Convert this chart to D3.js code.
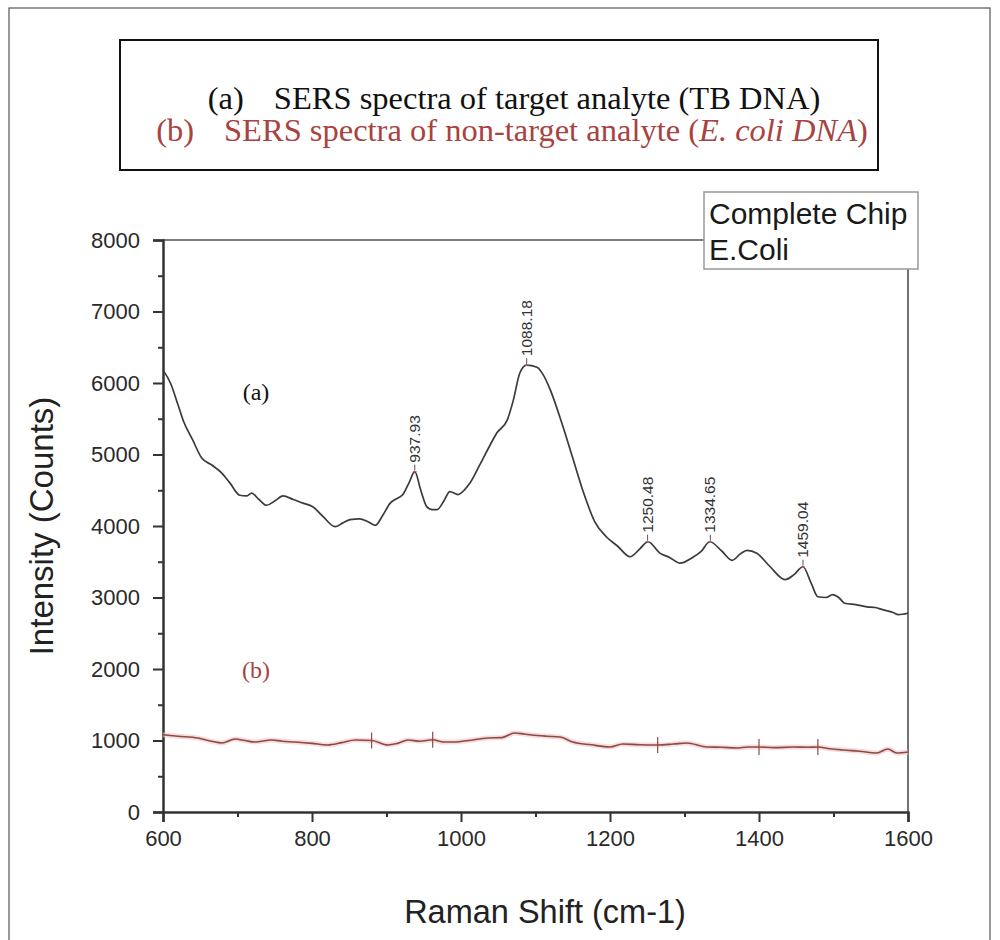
<!DOCTYPE html>
<html>
<head>
<meta charset="utf-8">
<script src="https://cdn.jsdelivr.net/npm/d3@7"></script>
<style>
  body { margin: 0; background: #fff; }
  svg { display: block; }
</style>
</head>
<body>
<svg id="chart" width="1000" height="940"></svg>
<script>
// spectrum (a) : TB DNA
const shiftA = [600, 610, 620, 627, 640, 652, 666, 679, 690, 703, 712, 719, 728, 739, 750, 761, 775, 788, 801, 815,
  831, 841, 851, 864, 875, 885, 895, 905, 915, 922, 930, 938, 946, 954, 961, 968, 977, 985, 996, 1005,
  1012, 1025, 1040, 1048, 1062, 1070, 1079, 1088, 1102, 1110, 1120, 1135, 1150, 1165, 1180, 1195, 1210, 1227, 1240, 1251,
  1267, 1280, 1294, 1311, 1322, 1334, 1350, 1364, 1375, 1384, 1397, 1415, 1435, 1447, 1459, 1470, 1479, 1490, 1499, 1507,
  1515, 1530, 1545, 1556, 1566, 1580, 1587, 1600];
const countsA = [6180, 6000, 5700, 5480, 5200, 4950, 4850, 4740, 4600, 4430, 4420, 4460, 4380, 4290, 4350, 4420, 4370, 4320, 4270, 4130,
  3990, 4040, 4090, 4100, 4060, 4010, 4150, 4320, 4390, 4440, 4600, 4760, 4500, 4270, 4230, 4230, 4350, 4480, 4440, 4510,
  4600, 4850, 5150, 5300, 5480, 5750, 6140, 6250, 6220, 6120, 5900, 5450, 4950, 4450, 4050, 3850, 3720, 3570, 3680, 3780,
  3620, 3560, 3480, 3560, 3640, 3780, 3650, 3520, 3610, 3660, 3620, 3430, 3250, 3320, 3430, 3200, 3010, 3000, 3040, 3000,
  2920, 2900, 2870, 2860, 2830, 2790, 2760, 2780];

// spectrum (b) : E. coli DNA
const shiftB = [600, 620, 647, 665, 679, 697, 710, 723, 746, 760, 777, 800, 821, 840, 858, 880, 902, 915, 929, 945,
  962, 975, 992, 1010, 1036, 1055, 1072, 1085, 1095, 1115, 1133, 1150, 1175, 1200, 1217, 1240, 1264, 1285, 1303, 1330,
  1350, 1370, 1385, 1400, 1420, 1446, 1465, 1479, 1495, 1513, 1535, 1558, 1573, 1585, 1600];
const countsB = [1080, 1060, 1035, 990, 965, 1020, 1000, 979, 1007, 990, 979, 960, 937, 970, 1007, 1000, 937, 960, 1007, 990,
  1010, 980, 979, 1000, 1035, 1040, 1105, 1090, 1077, 1060, 1049, 979, 940, 909, 951, 940, 937, 950, 965, 909,
  905, 895, 910, 909, 900, 909, 905, 909, 885, 867, 850, 825, 881, 825, 839];

// labelled peaks on (a)
const peakShift = [937.93, 1088.18, 1250.48, 1334.65, 1459.04];
const peakCounts = [4760, 6250, 3780, 3780, 3430];
const peakLabels = ['937.93', '1088.18', '1250.48', '1334.65', '1459.04'];

// small markers on (b)
const markShift = [880, 962, 1264, 1400, 1479];
const markCounts = [1000, 1010, 937, 909, 909];

const xTicks = [600, 800, 1000, 1200, 1400, 1600];
const xMinor = [700, 900, 1100, 1300, 1500];
const yTicks = [0, 1000, 2000, 3000, 4000, 5000, 6000, 7000, 8000];
const yMinor = [500, 1500, 2500, 3500, 4500, 5500, 6500, 7500];

const titleA = 'SERS spectra of target analyte (TB DNA)';
const titleB = 'SERS spectra of non-target analyte (';
const legendLines = ['Complete Chip', 'E.Coli'];

const RED = '#a8433f';
const SANS = 'Liberation Sans, Arial, sans-serif';
const SERIF = 'Liberation Serif, Times New Roman, serif';

main();

function main () {
  const svg = d3.select('#chart');
  const x = d3.scaleLinear().domain([600, 1600]).range([163, 908]);
  const y = d3.scaleLinear().domain([0, 8000]).range([812, 240]);

  // outer picture border
  svg.append('rect').attr('x', 9).attr('y', 8).attr('width', 981).attr('height', 940)
    .attr('fill', 'none').attr('stroke', '#555').attr('stroke-width', 1.2);

  drawTitle(svg);
  drawFrame(svg, x, y);
  drawSeries(svg, x, y);
  drawPeaks(svg, x, y);
  drawLegend(svg);
}

function drawTitle (svg) {
  svg.append('rect').attr('x', 120).attr('y', 40).attr('width', 758).attr('height', 130)
    .attr('fill', '#fff').attr('stroke', '#111').attr('stroke-width', 2);

  const t1 = svg.append('text').attr('x', 514).attr('y', 109)
    .attr('text-anchor', 'middle').attr('font-family', SERIF).attr('font-size', 32.5).attr('fill', '#111');
  t1.append('tspan').text('(a)');
  t1.append('tspan').attr('dx', 30).text(titleA);

  const t2 = svg.append('text').attr('x', 512).attr('y', 141)
    .attr('text-anchor', 'middle').attr('font-family', SERIF).attr('font-size', 32.5).attr('fill', RED);
  t2.append('tspan').text('(b)');
  t2.append('tspan').attr('dx', 30).text(titleB);
  t2.append('tspan').attr('font-style', 'italic').text('E. coli DNA');
  t2.append('tspan').text(')');
}

function drawFrame (svg, x, y) {
  const g = svg.append('g');
  // top and right edges
  g.append('line').attr('x1', x(600)).attr('x2', x(1600)).attr('y1', y(8000)).attr('y2', y(8000))
    .attr('stroke', '#555').attr('stroke-width', 1.5);
  g.append('line').attr('x1', x(1600)).attr('x2', x(1600)).attr('y1', y(8000)).attr('y2', y(0))
    .attr('stroke', '#444').attr('stroke-width', 1.5);

  const xAxis = d3.axisBottom(x).tickValues(xTicks).tickSize(10).tickPadding(8).tickFormat(d3.format('d'));
  g.append('g').attr('transform', `translate(0,${y(0)})`).call(xAxis);
  const xMinorAxis = d3.axisBottom(x).tickValues(xMinor).tickSize(5).tickFormat('');
  g.append('g').attr('transform', `translate(0,${y(0)})`).call(xMinorAxis).select('.domain').remove();

  const yAxis = d3.axisLeft(y).tickValues(yTicks).tickSize(10).tickPadding(13).tickFormat(d3.format('d'));
  g.append('g').attr('transform', `translate(${x(600)},0)`).call(yAxis);
  const yMinorAxis = d3.axisLeft(y).tickValues(yMinor).tickSize(5).tickFormat('');
  g.append('g').attr('transform', `translate(${x(600)},0)`).call(yMinorAxis).select('.domain').remove();

  g.selectAll('.domain').attr('stroke', '#333').attr('stroke-width', 2.5);
  g.selectAll('.tick line').attr('stroke', '#333').attr('stroke-width', 2);
  g.selectAll('.tick text').attr('font-family', SANS).attr('font-size', 22).attr('fill', '#2a2a2a');

  svg.append('text').attr('x', 545).attr('y', 923)
    .attr('text-anchor', 'middle').attr('font-family', SANS).attr('font-size', 32.5).attr('fill', '#222')
    .text('Raman Shift (cm-1)');

  svg.append('text').attr('transform', `translate(53,${y(4000)}) rotate(-90)`)
    .attr('text-anchor', 'middle').attr('font-family', SANS).attr('font-size', 33).attr('fill', '#222')
    .text('Intensity (Counts)');
}

function drawSeries (svg, x, y) {
  const line = d3.line()
    .x(d => x(d[0]))
    .y(d => y(d[1]))
    .curve(d3.curveMonotoneX);

  const dataA = shiftA.map((s, i) => [s, countsA[i]]);
  const dataB = shiftB.map((s, i) => [s, countsB[i]]);

  svg.append('path').attr('d', line(dataB))
    .attr('fill', 'none').attr('stroke', '#f2c4c4').attr('stroke-width', 5).attr('opacity', 0.6);
  svg.append('path').attr('d', line(dataB))
    .attr('fill', 'none').attr('stroke', '#8e4a47').attr('stroke-width', 1.6);

  svg.append('path').attr('d', line(dataA))
    .attr('fill', 'none').attr('stroke', '#3b3b3b').attr('stroke-width', 1.7);

  // markers on (b)
  for (let i = 0; i < markShift.length; i++) {
    const px = x(markShift[i]);
    const py = y(markCounts[i]);
    svg.append('line').attr('x1', px).attr('x2', px).attr('y1', py - 8).attr('y2', py + 8)
      .attr('stroke', '#8e4a47').attr('stroke-width', 1.2);
  }

  svg.append('text').attr('x', 256).attr('y', 400).attr('text-anchor', 'middle')
    .attr('font-family', SERIF).attr('font-size', 24).attr('fill', '#111').text('(a)');
  svg.append('text').attr('x', 256).attr('y', 678).attr('text-anchor', 'middle')
    .attr('font-family', SERIF).attr('font-size', 24).attr('fill', RED).text('(b)');
}

function drawPeaks (svg, x, y) {
  for (let i = 0; i < peakShift.length; i++) {
    const px = x(peakShift[i]);
    const py = y(peakCounts[i]);
    svg.append('line').attr('x1', px).attr('x2', px).attr('y1', py - 1).attr('y2', py - 7)
      .attr('stroke', '#555').attr('stroke-width', 1);
    svg.append('line').attr('x1', px - 2).attr('x2', px + 2).attr('y1', py).attr('y2', py)
      .attr('stroke', '#d06060').attr('stroke-width', 1);
    svg.append('text').text(peakLabels[i])
      .attr('transform', `translate(${px + 5},${py - 9}) rotate(-90)`)
      .attr('font-family', SANS)
      .attr('font-size', 15.5).attr('fill', '#333');
  }
}

function drawLegend (svg) {
  svg.append('rect').attr('x', 704).attr('y', 192).attr('width', 214).attr('height', 77)
    .attr('fill', '#fff').attr('stroke', '#999').attr('stroke-width', 1.5);
  legendLines.forEach((s, i) => {
    svg.append('text').attr('x', 709).attr('y', 224 + i * 36)
      .attr('font-family', SANS).attr('font-size', 30).attr('fill', '#1a1a1a').text(s);
  });
}
</script>
</body>
</html>
